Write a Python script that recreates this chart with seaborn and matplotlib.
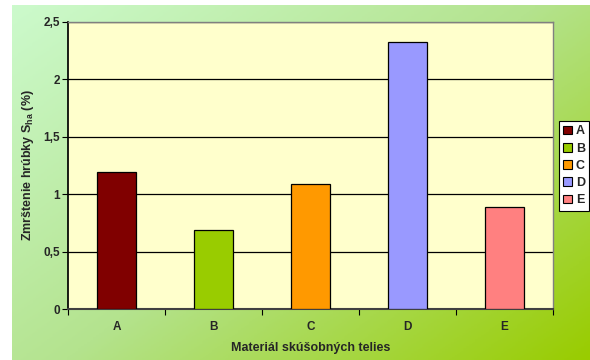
import matplotlib
matplotlib.use("Agg")
import matplotlib.pyplot as plt
import numpy as np
import pandas as pd
import seaborn as sns
from matplotlib.colors import LinearSegmentedColormap
from matplotlib.patches import Patch


materials = ["A", "B", "C", "D", "E"]
shrinkage = [1.19, 0.69, 1.09, 2.33, 0.89]
bar_colors = ["#800000", "#99cc00", "#ff9900", "#9999ff", "#ff8080"]
y_ticks = [0, 0.5, 1, 1.5, 2, 2.5]
y_tick_labels = ["0", "0,5", "1", "1,5", "2", "2,5"]

df = pd.DataFrame({"material": materials, "shrinkage": shrinkage})

sns.set_theme(style="white")
plt.rcParams["font.family"] = ["Liberation Sans", "DejaVu Sans"]
plt.rcParams["mathtext.fontset"] = "custom"
plt.rcParams["mathtext.rm"] = "Liberation Sans:bold"

fig = plt.figure(figsize=(5.9, 3.6), dpi=100)
fig.patch.set_facecolor("white")

# diagonal green gradient behind everything
bg = fig.add_axes([12 / 590, 0, 578 / 590, 355 / 360], zorder=0)
gx, gy = np.meshgrid(np.linspace(0, 1, 200), np.linspace(0, 1, 200))
grad = 0.55 * gx + 0.45 * gy
cmap = LinearSegmentedColormap.from_list("bg", ["#ccfacc", "#b4e38e", "#99cc00"])
bg.imshow(grad, cmap=cmap, aspect="auto", extent=[0, 1, 1, 0], vmin=0, vmax=1)
bg.set_axis_off()

ax = fig.add_axes([68 / 590, 51 / 360, 485 / 590, 287 / 360], zorder=1)
ax.set_facecolor("#ffffcc")

sns.barplot(data=df, x="material", y="shrinkage", hue="material", palette=bar_colors,
            saturation=1, width=0.41, edgecolor="black", linewidth=0.9, dodge=False,
            legend=False, ax=ax, zorder=3)

ax.set_ylim(0, 2.5)
ax.set_xlim(-0.5, 4.5)
ax.set_yticks(y_ticks)
ax.set_yticklabels(y_tick_labels, fontsize=8.5, fontweight="bold")
ax.yaxis.grid(True, color="black", linewidth=0.9)
ax.set_axisbelow(True)
ax.set_xticks(range(len(materials)))
ax.set_xticklabels(materials, fontsize=8.5, fontweight="bold")
ax.set_xticks(np.arange(-0.5, 5, 1), minor=True)
ax.tick_params(axis="x", which="major", length=0, pad=9)
ax.tick_params(axis="x", which="minor", length=4, width=0.8, direction="out", color="black", bottom=True)
ax.tick_params(axis="y", length=4, width=0.8, direction="out", color="black", left=True, pad=2)

for side in ["top", "right"]:
    ax.spines[side].set_color("#808080")
    ax.spines[side].set_linewidth(1)
ax.spines["left"].set_color("black")
ax.spines["bottom"].set_color("#404040")
ax.spines["bottom"].set_linewidth(1.5)

ax.set_xlabel("Materiál skúšobných telies", fontsize=9, fontweight="bold", labelpad=6)
ax.set_ylabel(r"Zmrštenie hrúbky S$_\mathrm{ha}$ (%)", fontsize=9, fontweight="bold", labelpad=5)

handles = [Patch(facecolor=c, edgecolor="black", linewidth=0.8) for c in bar_colors]
leg = fig.legend(handles, materials, loc="upper left", bbox_to_anchor=(559 / 590, 1 - 121 / 360),
                 frameon=True, fancybox=False, framealpha=1, edgecolor="black",
                 prop={"weight": "bold", "size": 9}, handlelength=0.7, handleheight=0.7,
                 handletextpad=0.3, borderpad=0.35, labelspacing=0.42, borderaxespad=0)
leg.get_frame().set_linewidth(0.8)
leg.set_zorder(5)

fig.savefig("out.png", dpi=100)
